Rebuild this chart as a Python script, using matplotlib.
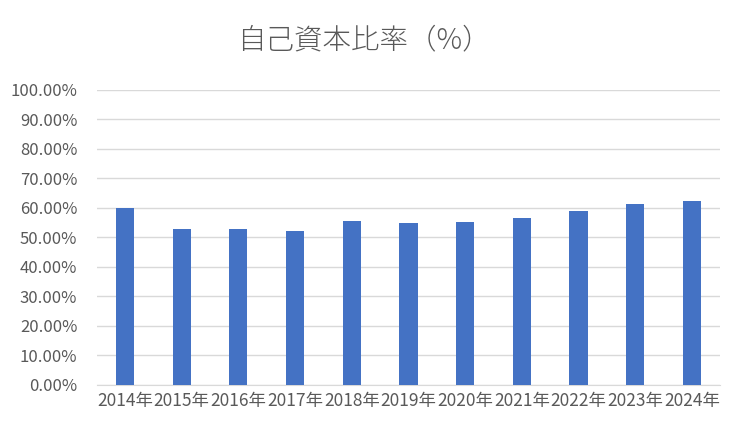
import matplotlib
matplotlib.use("Agg")
import matplotlib.pyplot as plt
import matplotlib.ticker as ticker

plt.rcParams["font.family"] = ["Noto Sans CJK JP", "DejaVu Sans"]

years = ["2014年", "2015年", "2016年", "2017年", "2018年", "2019年",
         "2020年", "2021年", "2022年", "2023年", "2024年"]
ratio = [0.600, 0.530, 0.527, 0.523, 0.555, 0.548, 0.552, 0.566, 0.590, 0.614, 0.624]

TEXT = "#595959"
GRID = "#d9d9d9"
BAR = "#4472c4"

fig = plt.figure(figsize=(7.44, 4.43), dpi=100)
ax = fig.add_axes([0.130, 0.131, 0.838, 0.666])

x = range(len(years))
ax.bar(x, ratio, width=0.32, color=BAR, zorder=3)

ax.set_ylim(0, 1.0)
ax.set_xlim(-0.5, len(years) - 0.5)
ax.yaxis.set_major_locator(ticker.MultipleLocator(0.1))
ax.yaxis.set_major_formatter(ticker.FuncFormatter(lambda v, _: f"{v * 100:.2f}%"))
ax.set_xticks(list(x))
ax.set_xticklabels(years)

ax.grid(axis="y", color=GRID, linewidth=1, zorder=0)
for s in ("top", "right", "left"):
    ax.spines[s].set_visible(False)
ax.spines["bottom"].set_color(GRID)
ax.tick_params(axis="both", length=0, colors=TEXT)
ax.tick_params(axis="x", pad=5, labelsize=12.5)
ax.tick_params(axis="y", pad=14, labelsize=12)

fig.text(0.489, 0.91, "自己資本比率（%）", ha="center", va="center",
         fontsize=20.5, color=TEXT, fontweight="light")

plt.savefig("out.png", dpi=100)
plt.close()
